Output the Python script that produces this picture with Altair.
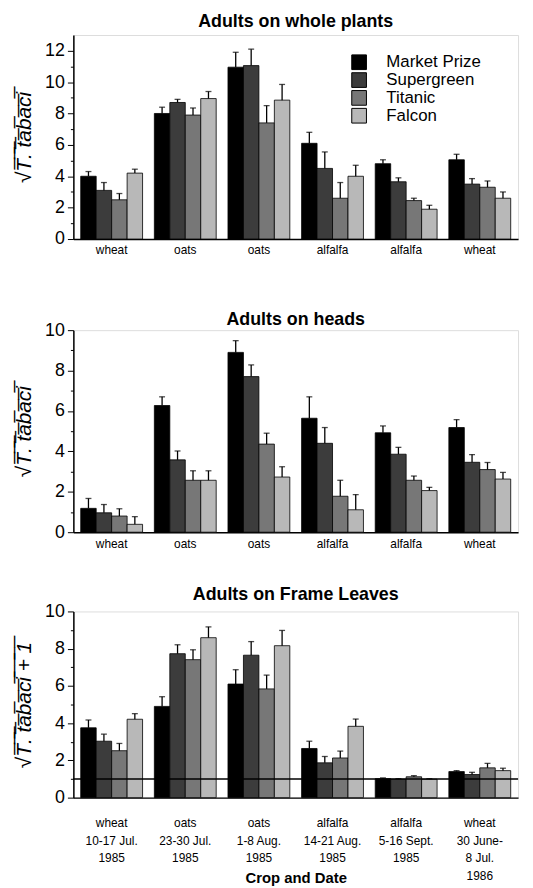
import altair as alt
import pandas as pd

varieties = ["Market Prize", "Supergreen", "Titanic", "Falcon"]
colors = ["#000000", "#3c3c3c", "#777777", "#b8b8b8"]

groups = [
    "wheat|10-17 Jul.|1985",
    "oats|23-30 Jul.|1985",
    "oats|1-8 Aug.|1985",
    "alfalfa|14-21 Aug.|1985",
    "alfalfa|5-16 Sept.|1985",
    "wheat|30 June-|8 Jul.|1986",
]

# Adults on whole plants
whole_mean = [[4.0, 3.1, 2.5, 4.2], [8.0, 8.7, 7.9, 8.95], [10.95, 11.05, 7.4, 8.85],
              [6.1, 4.5, 2.6, 4.0], [4.8, 3.65, 2.45, 1.9], [5.05, 3.5, 3.3, 2.6]]
whole_err = [[4.3, 3.6, 2.9, 4.45], [8.4, 8.9, 8.35, 9.4], [11.9, 12.1, 8.5, 9.85],
             [6.8, 5.55, 3.6, 4.7], [5.05, 3.9, 2.6, 2.15], [5.4, 3.85, 3.7, 3.0]]

# Adults on heads
heads_mean = [[1.18, 0.96, 0.8, 0.39], [6.27, 3.58, 2.57, 2.57], [8.9, 7.7, 4.36, 2.73],
              [5.64, 4.4, 1.78, 1.11], [4.92, 3.86, 2.57, 2.06], [5.18, 3.46, 3.1, 2.63]]
heads_err = [[1.67, 1.37, 1.16, 0.77], [6.7, 4.02, 3.04, 3.04], [9.48, 8.28, 4.9, 3.24],
             [6.7, 5.18, 2.57, 1.86], [5.26, 4.2, 2.78, 2.22], [5.57, 3.84, 3.45, 2.96]]

# Adults on frame leaves
frame_mean = [[3.75, 3.03, 2.52, 4.21], [4.9, 7.73, 7.41, 8.59], [6.1, 7.65, 5.84, 8.16],
              [2.64, 1.87, 2.13, 3.83], [1.02, 0.99, 1.12, 0.99], [1.4, 1.24, 1.6, 1.45]]
frame_err = [[4.17, 3.41, 2.91, 4.51], [5.42, 8.21, 7.94, 9.17], [6.87, 8.38, 6.58, 8.98],
             [3.03, 2.21, 2.5, 4.22], [1.06, 1.02, 1.18, 1.02], [1.45, 1.36, 1.84, 1.58]]
frame_ref = [1]

FONT = "Liberation Sans"
YT = "\u221aT\u0305.\u0305 \u0305t\u0305a\u0305b\u0305a\u0305c\u0305i\u0305"
YT1 = YT + " \u0305+\u0305 \u03051\u0305"


def make_df(means, errs):
    rows = []
    for g, mrow, erow in zip(groups, means, errs):
        for v, m, e in zip(varieties, mrow, erow):
            rows.append({"group": g, "variety": v, "mean": m, "err": e})
    return pd.DataFrame(rows)


def panel(means, errs, title, ymax, tickmax, ytitle, height, show_legend, full_labels, xtitle,
          title_dy, title_offset, ref_line=None):
    df = make_df(means, errs)
    base = alt.Chart(df)
    label_expr = "split(datum.value, '|')" if full_labels else "split(datum.value, '|')[0]"
    x_axis_args = dict(
        labelExpr=label_expr,
        labelAngle=0,
        labelFont=FONT,
        labelFontSize=12,
        labelColor="black",
        labelLineHeight=18,
        labelPadding=20 if full_labels else 6,
        ticks=False,
        domainColor="black",
        domainWidth=1.5,
    )
    if xtitle:
        x_axis_args.update(
            title=xtitle,
            titleFont=FONT,
            titleFontSize=15,
            titleFontWeight="bold",
            titleColor="black",
            titleY=81,
            titleBaseline="middle",
        )
    else:
        x_axis_args.update(title=None)
    x = alt.X(
        "group:N",
        sort=groups,
        scale=alt.Scale(paddingInner=0.16, paddingOuter=0.1),
        axis=alt.Axis(**x_axis_args),
    )
    xo = alt.XOffset("variety:N", sort=varieties, scale=alt.Scale(paddingInner=0, paddingOuter=0))
    yvals = list(range(0, tickmax + 1))
    y_axis = alt.Axis(
        title=ytitle,
        values=yvals,
        labelExpr="datum.value % 2 == 0 ? datum.label : ''",
        labelOverlap=False,
        labelFont=FONT,
        labelFontSize=18,
        labelColor="black",
        tickColor="black",
        tickSize={"condition": {"test": "datum.value % 2 == 0", "value": 6}, "value": 3},
        domainColor="black",
        domainWidth=1.5,
        grid=False,
        titleFont=FONT,
        titleFontSize=21,
        titleFontStyle="italic",
        titleFontWeight="normal",
        titleColor="black",
        titlePadding=10,
        labelPadding=3,
    )
    yscale = alt.Scale(domain=[0, ymax], nice=False)
    legend = alt.Legend(
        orient="none",
        legendX=280,
        legendY=19,
        title=None,
        symbolType="square",
        symbolSize=220,
        symbolStrokeColor="black",
        symbolStrokeWidth=1,
        labelFont=FONT,
        labelFontSize=17,
        labelColor="black",
        rowPadding=-3,
        labelOffset=19,
    ) if show_legend else None
    bars = base.mark_bar(stroke="black", strokeWidth=0.8).encode(
        x=x,
        xOffset=xo,
        y=alt.Y("mean:Q", scale=yscale, axis=y_axis),
        color=alt.Color("variety:N", sort=varieties,
                        scale=alt.Scale(domain=varieties, range=colors), legend=legend),
    )
    rule = base.mark_rule(color="black", strokeWidth=1.3).encode(
        x=x, xOffset=xo, y=alt.Y("mean:Q", scale=yscale, axis=y_axis), y2="err:Q"
    )
    cap = base.mark_tick(color="black", thickness=1.3, size=6, orient="horizontal").encode(
        x=x, xOffset=xo, y=alt.Y("err:Q", scale=yscale, axis=y_axis)
    )
    layers = [bars, rule, cap]
    if ref_line is not None:
        layers.append(
            alt.Chart(pd.DataFrame({"v": ref_line})).mark_rule(color="black", strokeWidth=1.3)
            .encode(y=alt.Y("v:Q", scale=yscale, axis=y_axis))
        )
    return alt.layer(*layers).properties(
        width=449,
        height=height,
        title=alt.TitleParams(title, font=FONT, fontSize=18, fontWeight="bold",
                              color="black", offset=title_offset, dy=title_dy),
    )


p1 = panel(whole_mean, whole_err, "Adults on whole plants", 13, 12, YT, 206, True, False, None,
           0, 4)
p2 = panel(heads_mean, heads_err, "Adults on heads", 10, 10, YT, 204, False, False, None, 8, 0)
p3 = panel(frame_mean, frame_err, "Adults   on   Frame   Leaves", 10, 10, YT1, 188, False, True,
           "Crop  and  Date", 1, 0, ref_line=frame_ref)

top = alt.vconcat(p1, p2, spacing=54)
chart = alt.vconcat(top, p3, spacing=35).resolve_scale(color="independent").resolve_legend(
    color="independent"
).properties(padding={"left": 5, "right": 5, "top": 0, "bottom": 0}).configure_view(
    stroke="black", strokeWidth=1.2
).configure(background="white")

chart.save("out.html", embed_options={"renderer": "svg", "actions": False})
